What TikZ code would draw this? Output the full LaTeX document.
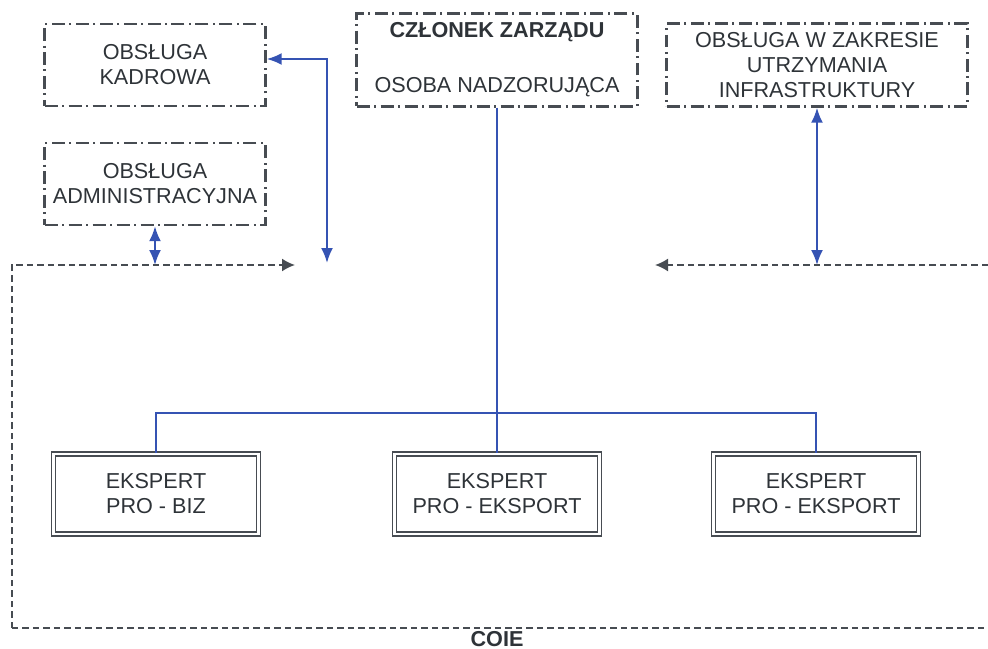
\documentclass[tikz,border=0pt]{standalone}
\usepackage{fontspec}
\setmainfont{Liberation Sans}
\usepackage{xcolor}
\usepackage{tikz}
\usetikzlibrary{arrows.meta,positioning}
\definecolor{slate}{HTML}{474C52}
\definecolor{inkText}{HTML}{2E3338}
\definecolor{royal}{HTML}{3553B3}

\begin{document}
\begin{tikzpicture}[
  x={(0.02cm,0)},y={(0,-0.02cm)},
  font=\fontsize{12.3}{14.2}\selectfont,text=inkText,
  unit/.style={draw=slate,line width=0.5mm,
    dash pattern=on 2.6mm off 0.9mm on 0.4mm off 0.9mm,
    align=center,inner sep=1mm},
  expert/.style={draw=slate,line width=0.3mm,double=white,double distance=0.45mm,
    minimum width=4.1cm,minimum height=1.6cm,align=center},
  link/.style={draw=royal,line width=0.4mm},
  both/.style={link,{Latex[length=3mm,width=2.4mm]}-{Latex[length=3mm,width=2.4mm]}},
  frame/.style={draw=slate,line width=0.35mm,dash pattern=on 1.3mm off 0.8mm},
  inward/.style={frame,-{Latex[length=2.6mm,width=2.6mm]}}
]
\useasboundingbox (0,0) rectangle (988,649);

% jednostki wspierajace
\node[unit,minimum width=4.42cm,minimum height=1.64cm] (kadr) at (155,65)
  {OBSŁUGA\\KADROWA};
\node[unit,minimum width=4.42cm,minimum height=1.64cm] (admin) at (155,184)
  {OBSŁUGA\\ADMINISTRACYJNA};
\node[unit,minimum width=5.62cm,minimum height=1.86cm] (zarz) at (497,60)
  {\textbf{CZŁONEK ZARZĄDU}\\[6mm]OSOBA NADZORUJĄCA};
\node[unit,minimum width=6.02cm,minimum height=1.66cm] (infra) at (817,65)
  {OBSŁUGA W ZAKRESIE\\UTRZYMANIA\\INFRASTRUKTURY};

% eksperci
\node[expert] (e1) at (156,494) {EKSPERT\\PRO - BIZ};
\node[expert] (e2) at (497,494) {EKSPERT\\PRO - EKSPORT};
\node[expert] (e3) at (816,494) {EKSPERT\\PRO - EKSPORT};

% ramka COIE
\coordinate (tl) at (12,265);
\coordinate (tla) at (295,265);
\coordinate (bl) at (12,628);
\coordinate (br) at (988,628);
\coordinate (tr) at (988,265);
\coordinate (tra) at (655,265);
\coordinate (kt) at (327,263);
\coordinate (bar) at (0,413);
\draw[inward] (bl) -- (tl) -- (tla);
\draw[inward] (tr) -- (tra);
\draw[frame] (bl) -- (br);
\node[font=\fontsize{12.3}{14}\selectfont\bfseries,inner sep=1pt] (coie) at (497,639) {COIE};

% polaczenia
\draw[both] ([yshift=1.2mm]kadr.east) -| (kt);
\draw[both] (admin.south) -- (admin.south |- tl);
\draw[both] (infra.south) -- (infra.south |- tr);
\draw[link] (zarz.south) -- (e2.north);
\draw[link] (e1.north) -- (e1.north |- bar) -- (e3.north |- bar) -- (e3.north);
\end{tikzpicture}
\end{document}
